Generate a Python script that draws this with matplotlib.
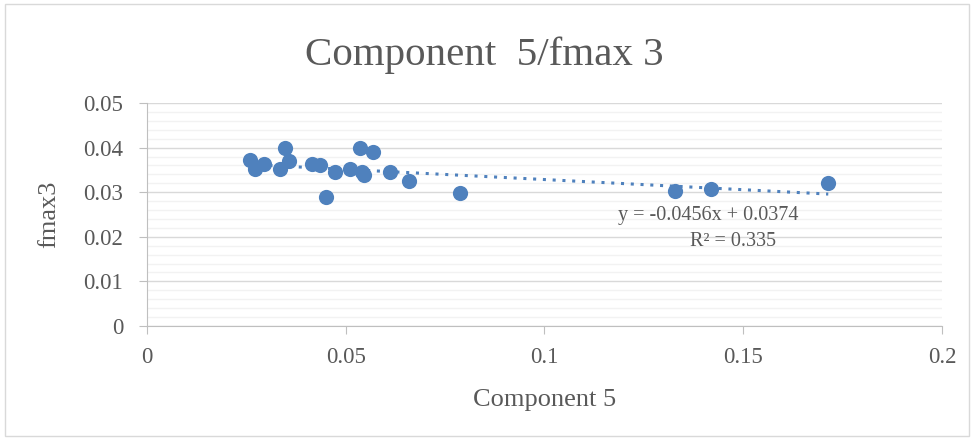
import numpy as np
import matplotlib
matplotlib.use("Agg")
import matplotlib.pyplot as plt
from matplotlib.ticker import MultipleLocator
from matplotlib.patches import Rectangle

# values
component5 = [0.0259, 0.0272, 0.0294, 0.0335, 0.0347, 0.0358, 0.0415, 0.0435, 0.0450,
              0.0473, 0.0512, 0.0537, 0.0540, 0.0546, 0.0569, 0.0612, 0.0659, 0.0787,
              0.1328, 0.1419, 0.1714]
fmax3 = [0.0372, 0.0351, 0.0363, 0.0353, 0.0399, 0.0370, 0.0363, 0.0361, 0.0290,
         0.0346, 0.0352, 0.0399, 0.0346, 0.0339, 0.0390, 0.0346, 0.0326, 0.0298,
         0.0302, 0.0307, 0.0320]
trend_slope = -0.0456
trend_icpt = 0.0374
trend_r2 = 0.335

title = "Component  5/fmax 3"
xlabel = "Component 5"
ylabel = "fmax3"

blue = "#4F81BD"
txt = "#595959"
plt.rcParams['font.family'] = ['Liberation Serif', 'DejaVu Serif']

fig = plt.figure(figsize=(9.74, 4.41), dpi=100)
ax = fig.add_axes([0.1509, 0.2608, 0.8162, 0.5056])

# outer chart border
fig.patches.append(Rectangle((0.005, 0.012), 0.99, 0.978, transform=fig.transFigure,
                             fill=False, edgecolor="#D9D9D9", linewidth=1))

ax.set_xlim(0, 0.2)
ax.set_ylim(0, 0.05)
ax.yaxis.set_minor_locator(MultipleLocator(0.002))
ax.set_xticks([0, 0.05, 0.1, 0.15, 0.2])
ax.set_xticklabels(["0", "0.05", "0.1", "0.15", "0.2"])
ax.set_yticks([0, 0.01, 0.02, 0.03, 0.04, 0.05])
ax.set_yticklabels(["0", "0.01", "0.02", "0.03", "0.04", "0.05"])

ax.grid(True, which="major", axis="y", color="#D9D9D9", linewidth=1)
ax.grid(True, which="minor", axis="y", color="#F2F2F2", linewidth=1)
ax.set_axisbelow(True)
for s in ["top", "right"]:
    ax.spines[s].set_visible(False)
for s in ["left", "bottom"]:
    ax.spines[s].set_color("#BFBFBF")
ax.tick_params(which="major", color="#BFBFBF", length=6, labelcolor=txt, labelsize=16.5)
ax.tick_params(axis="y", pad=11)
ax.tick_params(axis="x", pad=9)
ax.tick_params(which="minor", length=0)

# trendline
xs = np.array([min(component5), max(component5)])
ax.plot(xs, trend_slope * xs + trend_icpt, linestyle=(0, (1, 2.2)), color=blue,
        linewidth=2.2, zorder=2)
ax.scatter(component5, fmax3, s=120, color=blue, zorder=3, linewidths=0)

ax.text(0.706, 0.495, f"y = {trend_slope:.4f}x + {trend_icpt:.4f}", transform=ax.transAxes,
        ha="center", va="center", fontsize=14.5, color=txt)
ax.text(0.737, 0.378, f"R² = {trend_r2:.3f}", transform=ax.transAxes,
        ha="center", va="center", fontsize=14.5, color=txt)

fig.text(0.497, 0.875, title, ha="center", va="center", fontsize=29.5, color=txt)
ax.set_xlabel(xlabel, fontsize=19, color=txt, labelpad=15)
ax.set_ylabel(ylabel, fontsize=19, color=txt, labelpad=17)

fig.savefig("out.png", dpi=100)
